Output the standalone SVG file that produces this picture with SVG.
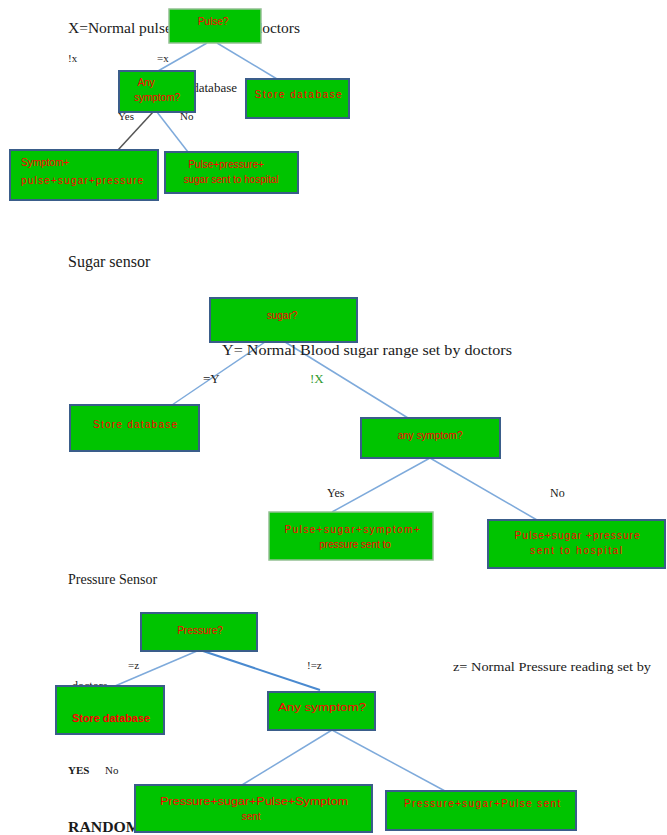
<svg xmlns="http://www.w3.org/2000/svg" width="667" height="835" viewBox="0 0 667 835">
<style>
.lbl{font-family:"Liberation Serif","Times New Roman",serif;fill:#1a1a1a;}
.bt{font-family:"Liberation Sans",Arial,sans-serif;fill:#ff0000;font-size:10px;}
.box{fill:#00c400;stroke:#3a5d8a;stroke-width:2;}
.boxl{fill:#00c400;stroke:#93c093;stroke-width:1.5;}
.cn{stroke:#7eaadb;stroke-width:1.5;fill:none;}
</style>
<rect width="667" height="835" fill="#ffffff"/>

<!-- background labels (behind boxes) -->
<text class="lbl" x="68" y="33" font-size="15" textLength="232" lengthAdjust="spacingAndGlyphs">X=Normal pulse range set by doctors</text>
<text class="lbl" x="68" y="62" font-size="11">!x</text>
<text class="lbl" x="157" y="62" font-size="11">=x</text>
<text class="lbl" x="237" y="92" font-size="13" text-anchor="end">Store database</text>
<text class="lbl" x="118" y="120" font-size="11">Yes</text>
<text class="lbl" x="180" y="120" font-size="11">No</text>
<text class="lbl" x="72" y="690" font-size="12">doctors</text>
<text class="lbl" x="68" y="832" font-size="14" font-weight="bold" textLength="244" lengthAdjust="spacingAndGlyphs">RANDOM FOREST ALGORITHM</text>

<g id="connectors">
  <line class="cn" x1="207" y1="43" x2="158" y2="71"/>
  <line class="cn" x1="217" y1="43" x2="277" y2="79"/>
  <line x1="153" y1="112" x2="118" y2="150" stroke="#555555" stroke-width="1.5"/>
  <line class="cn" x1="157" y1="112" x2="188" y2="152"/>
  <line class="cn" x1="265" y1="342" x2="172" y2="405"/>
  <line class="cn" x1="285" y1="342" x2="408" y2="418"/>
  <line class="cn" x1="430" y1="458" x2="332" y2="512"/>
  <line class="cn" x1="430" y1="458" x2="537" y2="520"/>
  <line class="cn" x1="197" y1="651" x2="115" y2="686"/>
  <line x1="203" y1="651" x2="320" y2="690" stroke="#4a8ad0" stroke-width="2"/>
  <line class="cn" x1="332" y1="730" x2="242" y2="785"/>
  <line class="cn" x1="332" y1="730" x2="445" y2="791"/>
</g>

<!-- top tree -->
<g id="pulse">
  <rect class="boxl" x="169" y="9" width="92" height="34"/>
  <text class="bt" x="213" y="25" text-anchor="middle">Pulse?</text>
</g>
<g id="any-symptom-1">
  <rect class="box" x="119" y="71" width="76" height="41"/>
  <text class="bt" x="146" y="86" text-anchor="middle">Any</text>
  <text class="bt" x="157" y="101" text-anchor="middle">symptom?</text>
</g>
<g id="store-db-1">
  <rect class="box" x="246" y="79" width="103" height="39" stroke-width="2.5"/>
  <text class="bt" x="298" y="98" text-anchor="middle" textLength="87" lengthAdjust="spacing">Store  database</text>
</g>
<g id="symptom-all-1">
  <rect class="box" x="10" y="150" width="148" height="50"/>
  <text class="bt" x="21" y="166">Symptom+</text>
  <text class="bt" x="21" y="184" textLength="122" lengthAdjust="spacing">pulse+sugar+pressure</text>
</g>
<g id="pulse-sent">
  <rect class="box" x="165" y="152" width="133" height="41"/>
  <text class="bt" x="226" y="168" text-anchor="middle">Pulse+pressure+</text>
  <text class="bt" x="231" y="183" text-anchor="middle" font-size="9">sugar sent to hospital</text>
</g>

<!-- sugar sensor -->
<text class="lbl" x="68" y="267" font-size="16">Sugar sensor</text>
<g id="sugar">
  <rect class="box" x="210" y="298" width="147" height="44"/>
  <text class="bt" x="282" y="319" text-anchor="middle">sugar?</text>
</g>
<text class="lbl" x="222" y="355" font-size="15" textLength="290" lengthAdjust="spacingAndGlyphs">Y= Normal Blood sugar range set by doctors</text>
<text class="lbl" x="203" y="383" font-size="13">=Y</text>
<text class="lbl" x="310" y="383" font-size="13" style="fill:#2f9a2f">!X</text>
<g id="store-db-2">
  <rect class="box" x="70" y="405" width="129" height="46"/>
  <text class="bt" x="135" y="428" text-anchor="middle" textLength="84" lengthAdjust="spacing">Store database</text>
</g>
<g id="any-symptom-2">
  <rect class="box" x="361" y="418" width="139" height="40"/>
  <text class="bt" x="430" y="439" text-anchor="middle">any symptom?</text>
</g>
<text class="lbl" x="327" y="497" font-size="12">Yes</text>
<text class="lbl" x="550" y="497" font-size="12">No</text>
<g id="sugar-yes">
  <rect class="boxl" x="269" y="512" width="164" height="48"/>
  <text class="bt" x="352" y="533" text-anchor="middle" textLength="135" lengthAdjust="spacing">Pulse+sugar+symptom+</text>
  <text class="bt" x="355" y="548" text-anchor="middle">pressure sent to</text>
</g>
<g id="sugar-no">
  <rect class="box" x="488" y="520" width="177" height="48"/>
  <text class="bt" x="577" y="539" text-anchor="middle" textLength="125" lengthAdjust="spacing">Pulse+sugar +pressure</text>
  <text class="bt" x="576" y="554" text-anchor="middle" textLength="92" lengthAdjust="spacing">sent to hospital</text>
</g>

<!-- pressure sensor -->
<text class="lbl" x="68" y="584" font-size="14">Pressure Sensor</text>
<g id="pressure">
  <rect class="box" x="141" y="613" width="116" height="38"/>
  <text class="bt" x="200" y="634" text-anchor="middle">Pressure?</text>
</g>
<text class="lbl" x="128" y="669" font-size="11">=z</text>
<text class="lbl" x="307" y="669" font-size="11">!=z</text>
<text class="lbl" x="453" y="671" font-size="12" textLength="198" lengthAdjust="spacingAndGlyphs">z= Normal Pressure reading set by</text>
<g id="store-db-3">
  <rect class="box" x="56" y="686" width="108" height="48"/>
  <text class="bt" x="111" y="722" text-anchor="middle" textLength="78" lengthAdjust="spacingAndGlyphs" font-weight="bold">Store database</text>
</g>
<g id="any-symptom-3">
  <rect class="box" x="268" y="692" width="107" height="38"/>
  <text class="bt" x="322" y="711" text-anchor="middle" textLength="88" lengthAdjust="spacingAndGlyphs">Any symptom?</text>
</g>
<text class="lbl" x="68" y="774" font-size="11" font-weight="bold">YES</text>
<text class="lbl" x="105" y="774" font-size="11">No</text>
<g id="pressure-yes">
  <rect class="box" x="135" y="785" width="237" height="47"/>
  <text class="bt" x="254" y="805" text-anchor="middle" textLength="188" lengthAdjust="spacingAndGlyphs">Pressure+sugar+Pulse+Symptom</text>
  <text class="bt" x="251" y="820" text-anchor="middle">sent</text>
</g>
<g id="pressure-no">
  <rect class="box" x="386" y="791" width="190" height="39"/>
  <text class="bt" x="404" y="807" textLength="156" lengthAdjust="spacing">Pressure+sugar+Pulse  sent</text>
</g>
</svg>
